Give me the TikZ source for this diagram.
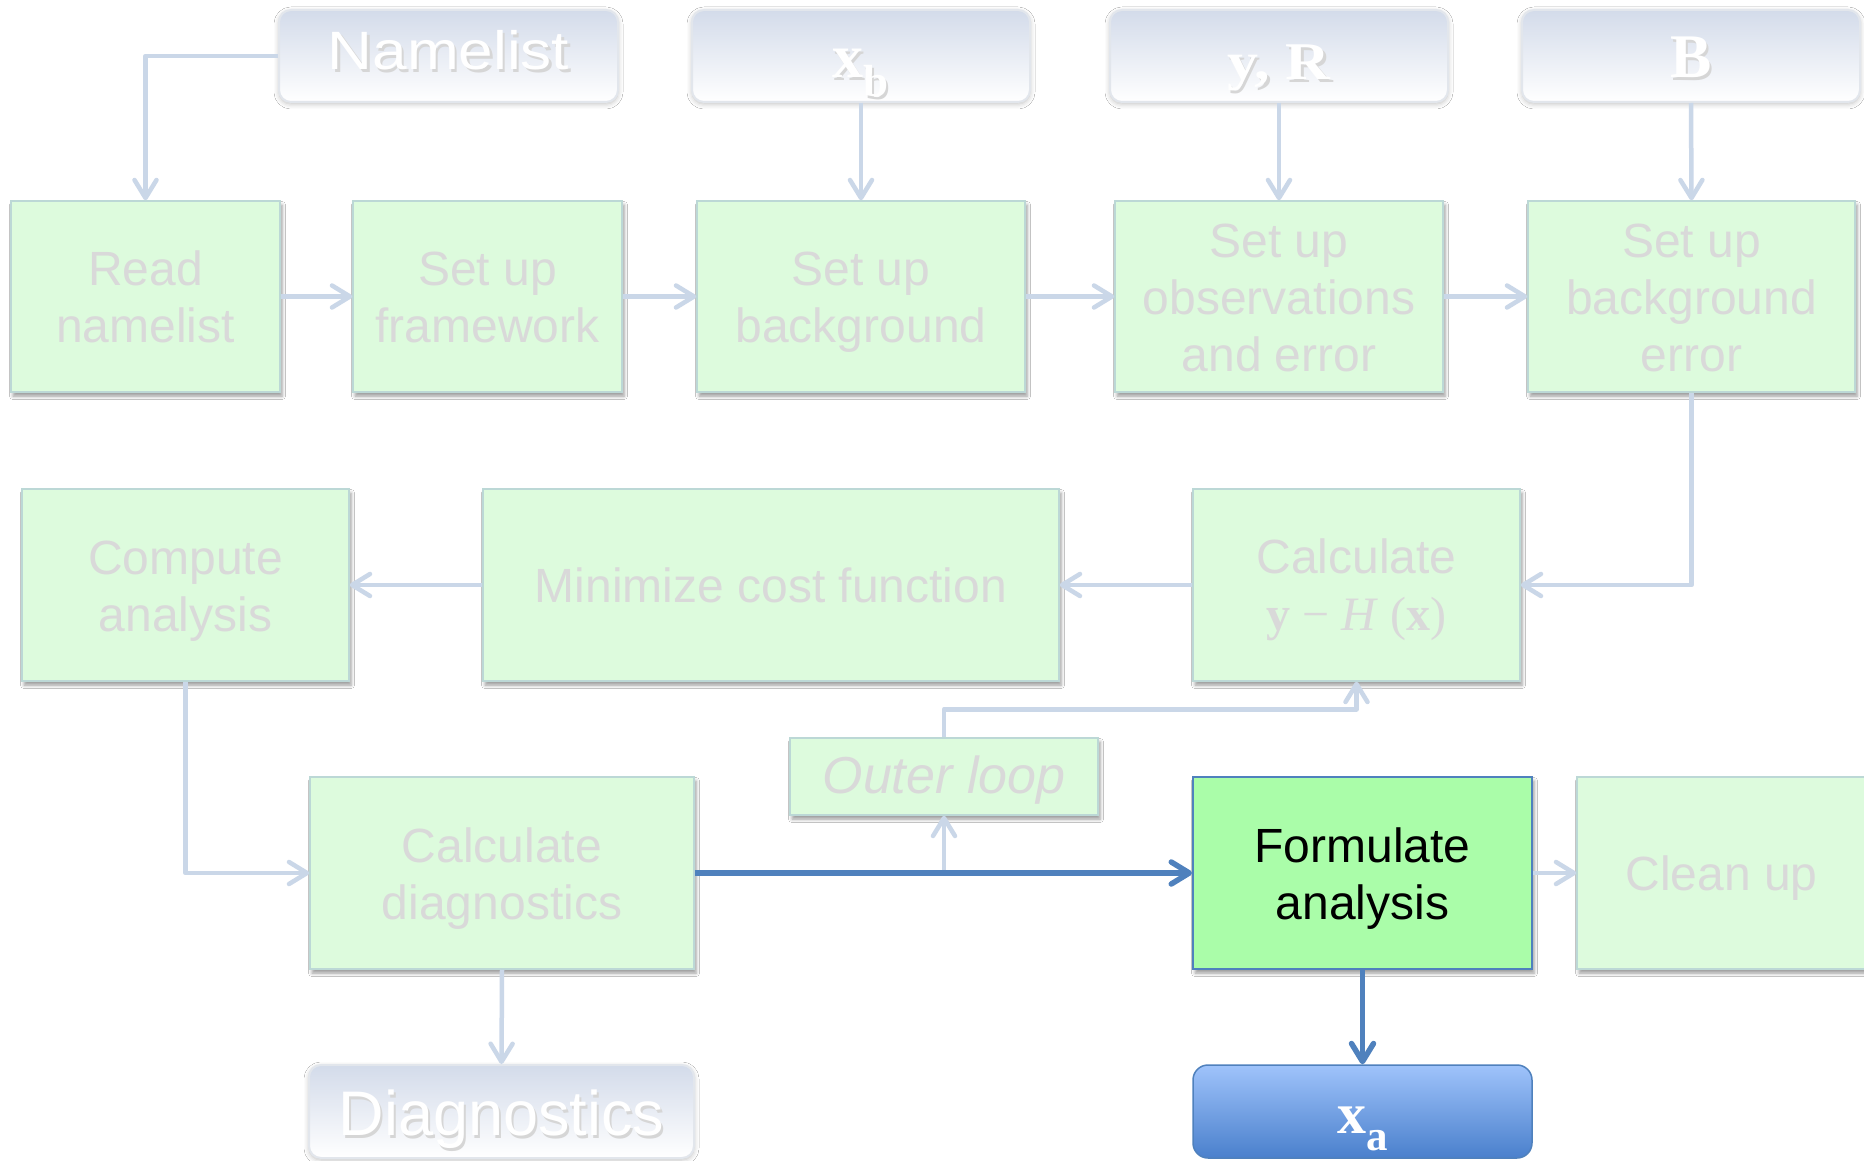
\documentclass[tikz,border=0pt]{standalone}
\usepackage{graphicx}
\usepackage{fontspec}
\setmainfont{Liberation Sans}
\newfontfamily\serif{Liberation Serif}
\usetikzlibrary{arrows.meta,shadows.blur}

\definecolor{boxfill}{HTML}{DDFBDD}
\definecolor{boxline}{HTML}{BCD8D6}
\definecolor{fadetext}{HTML}{D9D9D9}
\definecolor{fadelink}{HTML}{CAD7E8}
\definecolor{linkblue}{HTML}{4F81BD}
\definecolor{activefill}{HTML}{AAFDA9}
\definecolor{tabtop}{HTML}{D3DBEA}
\definecolor{tabline}{HTML}{E2E6EC}
\definecolor{outtop}{HTML}{9FC3FB}
\definecolor{outbottom}{HTML}{4A80CC}

% white lettering with a soft grey shadow below right
\newcommand{\embossed}[1]{\leavevmode\rlap{\kern2pt\raisebox{-3pt}{\textcolor{black!16}{#1}}}#1}
% uniform line strut for the process boxes
\newcommand{\ls}{\rule[-10pt]{0pt}{55pt}}
\newcommand{\stagefont}{\fontsize{48}{57}\selectfont}

\begin{document}
\begin{tikzpicture}[x=1pt,y=-1pt,
  stage/.style={rectangle, draw=boxline, line width=1.5pt, fill=boxfill,
    text=fadetext, align=center, inner sep=0pt, font=\stagefont,
    blur shadow={shadow xshift=2pt, shadow yshift=-4pt,
      shadow blur radius=3.5pt, shadow opacity=40}},
  active/.style={stage, fill=activefill, draw=linkblue, line width=2pt, text=black},
  tab/.style={rectangle, rounded corners=12pt, draw=tabline, line width=2pt,
    top color=tabtop, bottom color=white, text=white, inner sep=0pt,
    minimum height=92pt, text depth=0pt,
    blur shadow={shadow xshift=0pt, shadow yshift=-2pt,
      shadow blur radius=5pt, shadow opacity=25}},
  outbox/.style={rectangle, rounded corners=15pt, draw=linkblue, line width=1.5pt,
    top color=outtop, bottom color=outbottom, text=white, inner sep=0pt,
    minimum height=93pt, text depth=0pt},
  fade/.style={draw=fadelink, line width=4.5pt, line join=round,
    -{Straight Barb[length=18pt,width=22pt,round]}},
  live/.style={draw=linkblue, line width=5.5pt, line join=round,
    -{Straight Barb[length=18pt,width=22pt,round]}}
]
\useasboundingbox (0,0) rectangle (1864,1161);
\fill[white] (0,0) rectangle (1864,1161);

% inputs
\node[tab, minimum width=339pt, text height=28pt, font=\fontsize{54}{54}\selectfont]
  (namelist) at (448.5,56) {\scalebox{1.15}[1]{\embossed{Namelist}}};
\node[tab, minimum width=338pt, text height=44pt, font=\serif\bfseries\fontsize{62}{62}\selectfont]
  (xb) at (861,56) {\embossed{x\raisebox{-19pt}{\fontsize{45}{45}\selectfont b}}};
\node[tab, minimum width=338pt, text height=48pt, font=\serif\bfseries\fontsize{53}{53}\selectfont]
  (yr) at (1279,56) {\scalebox{1.17}[1]{\embossed{y, R}}};
\node[tab, minimum width=338pt, text height=44pt, font=\serif\bfseries\fontsize{62}{62}\selectfont]
  (bmat) at (1691,56) {\embossed{B}};

% set-up stages
\node[stage, minimum width=269pt, minimum height=191pt] (read) at (145.5,296.5)
  {\ls Read\\\ls namelist};
\node[stage, minimum width=269pt, minimum height=191pt] (frame) at (487.5,296.5)
  {\ls Set up\\\ls framework};
\node[stage, minimum width=328pt, minimum height=191pt] (bg) at (861,296.5)
  {\ls Set up\\\ls background};
\node[stage, minimum width=328pt, minimum height=191pt] (obs) at (1279,296.5)
  {\ls Set up\\\ls observations\\\ls and error};
\node[stage, minimum width=327pt, minimum height=191pt] (berr) at (1691.5,296.5)
  {\ls Set up\\\ls background\\\ls error};

% minimisation stages
\node[stage, minimum width=327pt, minimum height=192pt] (comp) at (185.5,585)
  {\ls Compute\\\ls analysis};
\node[stage, minimum width=576pt, minimum height=192pt] (mini) at (771,585)
  {\ls Minimize cost function};
\node[stage, minimum width=327pt, minimum height=192pt] (calc) at (1356.5,585)
  {\ls Calculate\\\ls{\serif\textbf{y} − \textit{H} (\textbf{x})}};

\node[stage, minimum width=308pt, minimum height=77pt,
  font=\fontsize{52}{57}\selectfont\itshape] (outer) at (944,776.5) {\ls Outer loop};

% final stages
\node[stage, minimum width=384pt, minimum height=192pt] (diag) at (502,873)
  {\ls Calculate\\\ls diagnostics};
\node[active, minimum width=339pt, minimum height=192pt] (form) at (1362.5,873)
  {\ls Formulate\\\ls analysis};
\node[stage, minimum width=289pt, minimum height=192pt] (clean) at (1721.5,873)
  {\ls Clean up};

% outputs
\node[tab, minimum width=385pt, minimum height=93pt, text height=47pt,
  font=\fontsize{63}{63}\selectfont] (diagout) at (501.5,1111.5) {\embossed{Diagnostics}};
\node[outbox, minimum width=339pt, text height=43pt,
  font=\serif\bfseries\fontsize{58}{58}\selectfont] (xa) at (1362.5,1111.5)
  {x\raisebox{-17pt}{\fontsize{43}{43}\selectfont a}};

% connectors
\draw[fade] (namelist.west) -| (read.north);
\draw[fade] (xb.south) -- (bg.north);
\draw[fade] (yr.south) -- (obs.north);
\draw[fade] (bmat.south) -- (berr.north);
\draw[fade] (read.east) -- (frame.west);
\draw[fade] (frame.east) -- (bg.west);
\draw[fade] (bg.east) -- (obs.west);
\draw[fade] (obs.east) -- (berr.west);
\draw[fade] (berr.south) |- (calc.east);
\draw[fade] (calc.west) -- (mini.east);
\draw[fade] (mini.west) -- (comp.east);
\draw[fade] (comp.south) |- (diag.west);
\coordinate (split) at (outer.south |- diag.east);
\coordinate (loopturn) at ([yshift=28pt]outer.north);
\draw[fade] (split) -- (outer.south);
\draw[fade] (outer.north) -- (loopturn) -| (calc.south);
\draw[fade] (form.east) -- (clean.west);
\draw[fade] (diag.south) -- (diagout.north);
\draw[live] (diag.east) -- (form.west);
\draw[live] (form.south) -- (xa.north);
\end{tikzpicture}
\end{document}
